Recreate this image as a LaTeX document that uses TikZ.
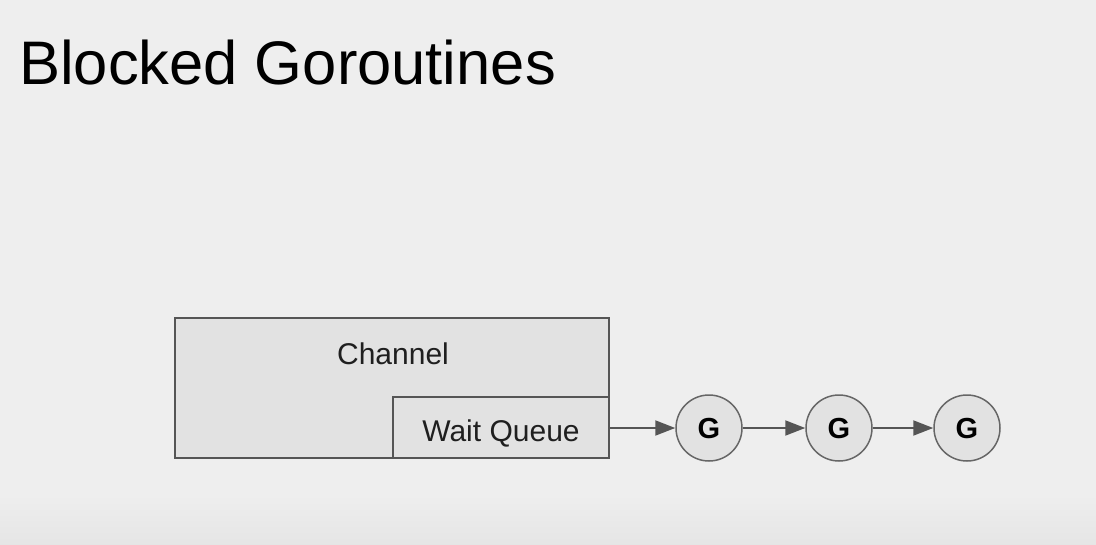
\documentclass[tikz,border=0pt]{standalone}
\usepackage{fontspec}
\setmainfont{Liberation Sans}
\usetikzlibrary{arrows.meta}
\definecolor{bg}{HTML}{EEEEEE}
\definecolor{boxfill}{HTML}{E2E2E2}
\definecolor{edge}{HTML}{555555}
\tikzset{
  boxshape/.style={draw=edge, line width=2pt, fill=boxfill, rectangle, inner sep=0pt},
  gnode/.style={draw=edge!90, line width=1.5pt, fill=boxfill, circle, minimum size=66pt, inner sep=0pt},
  conn/.style={draw=edge, line width=2pt, -{Triangle[length=20pt,width=15pt]}},
  lbl/.style={font=\fontsize{30}{34}\selectfont, text=black!88, inner sep=0pt, anchor=base},
  gl/.style={font=\fontsize{29}{33}\selectfont\bfseries, text=black, inner sep=0pt, anchor=base}
}
\begin{document}
\begin{tikzpicture}[x=1pt,y=-1pt]
\fill[bg] (0,0) rectangle (1096,544);
\shade[top color=bg, bottom color=black!10, draw=none] (0,495) rectangle (1096,544);
\useasboundingbox (0,0) rectangle (1096,544);
\node[font=\fontsize{61.5}{70}\selectfont, text=black, anchor=base west, inner sep=0pt] (title) at (19,84) {Blocked Goroutines};
\node[boxshape, minimum width=434pt, minimum height=140pt] (chan) at (392,388) {};
\node[lbl] (chanlbl) at (393,364) {Channel};
\node[boxshape, minimum width=216pt, minimum height=61pt] (wq) at (501,427.5) {};
\node[lbl] (wqlbl) at (501,441) {Wait Queue};
\node[gnode] (g1) at (709,428) {};
\node[gnode] (g2) at (839,428) {};
\node[gnode] (g3) at (967,428) {};
\node[gl] (g1l) at (709,438) {G};
\node[gl] (g2l) at (839,438) {G};
\node[gl] (g3l) at (967,438) {G};
\draw[conn] (wq.east |- g1.west) -- (g1.west);
\draw[conn] (g1.east) -- (g2.west);
\draw[conn] (g2.east) -- (g3.west);
\end{tikzpicture}
\end{document}
